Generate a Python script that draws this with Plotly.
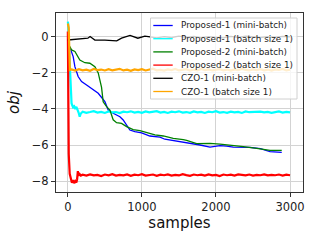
import plotly.graph_objects as go

# ---------------- data ----------------
labels = ["Proposed-1 (mini-batch)", "Proposed-1 (batch size 1)",
          "Proposed-2 (mini-batch)", "Proposed-2 (batch size 1)",
          "CZO-1 (mini-batch)", "CZO-1 (batch size 1)"]
colors = ["#0000ff", "#00ffff", "#008000", "#ff0000", "#000000", "#ffa500"]

x_ticks = [0, 1000, 2000, 3000]
y_ticks = [-8, -6, -4, -2, 0]

p1_mini_x = [0, 30, 72, 95, 139, 185, 253, 320, 410, 500, 545, 612, 703, 747, 793, 838,
             905, 996, 1108, 1243, 1310, 1469, 1604, 1739, 1784, 1919, 2054, 2144, 2234,
             2459, 2600, 2730, 2888]
p1_mini_y = [-0.45, -0.6, -1.09, -1.65, -2.2, -2.48, -2.67, -2.85, -3.13, -3.59, -4.06,
             -4.24, -4.43, -4.61, -4.89, -5.17, -5.26, -5.33, -5.5, -5.56, -5.68, -5.78,
             -5.87, -5.98, -6.0, -6.12, -6.04, -6.06, -6.12, -6.13, -6.2, -6.37, -6.41]

p2_mini_x = [0, 27, 50, 95, 162, 230, 297, 365, 410, 432, 455, 477, 523, 568, 612, 658,
             725, 793, 882, 973, 1085, 1176, 1288, 1423, 1558, 1604, 1739, 1919, 2054,
             2189, 2369, 2550, 2730, 2888]
p2_mini_y = [-0.45, -0.54, -0.72, -0.81, -1.28, -1.43, -1.46, -1.65, -2.0, -2.48, -2.8,
             -3.6, -3.87, -4.06, -4.6, -4.76, -4.8, -4.98, -5.15, -5.2, -5.35, -5.44,
             -5.5, -5.63, -5.7, -5.74, -5.92, -5.91, -5.95, -6.0, -6.09, -6.19, -6.3, -6.3]

czo_mini_x = [0, 95, 180, 270, 300, 365, 500, 660, 725, 840, 945, 1040, 1110, 1200, 1300,
              1400, 1500, 1600, 1700, 1800, 1900, 2000, 2100, 2200, 2300, 2400, 2500,
              2600, 2700, 2800, 2900, 3000]
czo_mini_y = [-0.17, -0.13, -0.1, -0.07, 0.02, -0.17, -0.18, -0.22, -0.07, 0.09, -0.07,
              0.05, 0.0, -0.05, 0.02, -0.03, 0.04, -0.02, 0.03, -0.04, 0.02, 0.0, -0.05,
              0.03, -0.02, 0.04, 0.0, -0.03, 0.02, -0.01, 0.03, 0.0]

tail_x = list(range(200, 3001, 50))  # 57 sample positions

p1_bs1_x = [0, 5, 15, 27, 40, 50, 58, 70, 85, 100, 115, 130, 145, 160, 175] + tail_x
p1_bs1_y = [0.85, 0.7, -0.5, -1.83, -3.0, -3.68, -3.78, -3.9, -3.85, -4.0, -3.88, -4.02,
            -4.2, -4.43, -4.25,
            -4.15, -4.21, -4.17, -4.12, -4.2, -4.16, -4.22, -4.14, -4.19, -4.17,
            -4.23, -4.15, -4.18, -4.13, -4.2, -4.16, -4.21, -4.14, -4.19, -4.17,
            -4.12, -4.2, -4.16, -4.22, -4.15, -4.18, -4.13, -4.2, -4.17, -4.21,
            -4.14, -4.19, -4.16, -4.22, -4.15, -4.18, -4.12, -4.2, -4.17, -4.21,
            -4.15, -4.19, -4.16, -4.22, -4.14, -4.18, -4.17, -4.2, -4.15, -4.19,
            -4.16, -4.21, -4.18, -4.14, -4.2, -4.16, -4.19]

p2_bs1_x = [0, 4, 12, 25, 40, 55, 70, 85, 100, 115, 125, 135, 145, 160, 175] + tail_x
p2_bs1_y = [0.3, -2.5, -6.5, -7.6, -7.95, -8.1, -7.95, -8.12, -8.0, -8.08, -7.9, -7.45,
            -7.7, -7.62, -7.7,
            -7.65, -7.7, -7.63, -7.69, -7.66, -7.72, -7.64, -7.68, -7.62, -7.7,
            -7.66, -7.69, -7.63, -7.71, -7.65, -7.68, -7.62, -7.7, -7.66, -7.64,
            -7.71, -7.65, -7.68, -7.63, -7.7, -7.66, -7.69, -7.62, -7.67, -7.71,
            -7.64, -7.68, -7.65, -7.7, -7.63, -7.69, -7.66, -7.72, -7.64, -7.68,
            -7.65, -7.7, -7.63, -7.67, -7.69, -7.64, -7.7, -7.66, -7.68, -7.63,
            -7.69, -7.66, -7.68, -7.64, -7.7, -7.65, -7.68]

czo_bs1_x = [0, 12, 27] + list(range(50, 3001, 50))
czo_bs1_y = [0.75, 0.5, -1.83,
             -1.80, -1.87, -1.79, -1.85, -1.82, -1.88, -1.78, -1.84, -1.81, -1.86,
             -1.79, -1.85, -1.83, -1.77, -1.86, -1.82, -1.88, -1.80, -1.84, -1.79,
             -1.86, -1.81, -1.76, -1.85, -1.83, -1.87, -1.80, -1.84, -1.78, -1.86,
             -1.82, -1.79, -1.87, -1.81, -1.85, -1.78, -1.84, -1.80, -1.86, -1.82,
             -1.79, -1.85, -1.81, -1.87, -1.80, -1.84, -1.78, -1.83, -1.86, -1.80,
             -1.84, -1.79, -1.85, -1.81, -1.87, -1.80, -1.83, -1.78, -1.85, -1.82]

series = [
    (p1_mini_x, p1_mini_y, 1.3),
    (p1_bs1_x, p1_bs1_y, 2.2),
    (p2_mini_x, p2_mini_y, 1.3),
    (p2_bs1_x, p2_bs1_y, 2.2),
    (czo_mini_x, czo_mini_y, 1.3),
    (czo_bs1_x, czo_bs1_y, 2.2),
]

# ---------------- figure ----------------
FONT = "DejaVu Sans"
fig = go.Figure()
for (xs, ys, w), name, c in zip(series, labels, colors):
    fig.add_trace(go.Scatter(x=xs, y=ys, mode="lines", name=name,
                             line=dict(color=c, width=w), showlegend=False))

W, H = 320, 240
L, R, T, B = 56, 17, 13, 48
pw, ph = W - L - R, H - T - B

def px2paper(px, py):
    return (px - L) / pw, (H - B - py) / ph

# manual legend (compact like matplotlib)
shapes = []
annotations = []
lx0, ly0 = px2paper(150.5, 18)
lx1, ly1 = px2paper(297, 99)
shapes.append(dict(type="rect", xref="paper", yref="paper", x0=lx0, x1=lx1, y0=ly1, y1=ly0,
                   line=dict(color="#d0d0d0", width=1), fillcolor="rgba(255,255,255,0.8)",
                   layer="above"))
for i, (name, c) in enumerate(zip(labels, colors)):
    py = 25.5 + 13.2 * i
    a, yy = px2paper(153.3, py)
    b, _ = px2paper(172.7, py)
    tx, _ = px2paper(179.3, py)
    shapes.append(dict(type="line", xref="paper", yref="paper", x0=a, x1=b, y0=yy, y1=yy,
                       line=dict(color=c, width=1.3), layer="above"))
    annotations.append(dict(text=name, xref="paper", yref="paper", x=tx, y=yy,
                            xanchor="left", yanchor="middle", showarrow=False,
                            font=dict(family=FONT, size=8.8, color="#222")))

axis_common = dict(showgrid=True, gridcolor="#d3d3d3", gridwidth=1,
                   showline=True, linecolor="#333", linewidth=1, mirror=True,
                   ticks="outside", ticklen=4, tickcolor="#333", zeroline=False,
                   tickfont=dict(family=FONT, size=11.5, color="#222"))

fig.update_layout(
    width=W, height=H,
    margin=dict(l=L, r=R, t=T, b=B),
    plot_bgcolor="white", paper_bgcolor="white",
    shapes=shapes, annotations=annotations,
    xaxis=dict(range=[-160, 3175], tickvals=x_ticks,
               title=dict(text="samples", font=dict(family=FONT, size=15, color="#111"),
                          standoff=2),
               **axis_common),
    yaxis=dict(range=[-8.61, 1.33], tickvals=y_ticks,
               title=dict(text="<i>obj</i>", font=dict(family=FONT, size=15, color="#111"),
                          standoff=8),
               **axis_common),
)

fig.write_html("out.html", config={"displayModeBar": False},
               post_script="document.body.style.margin='0px';")
